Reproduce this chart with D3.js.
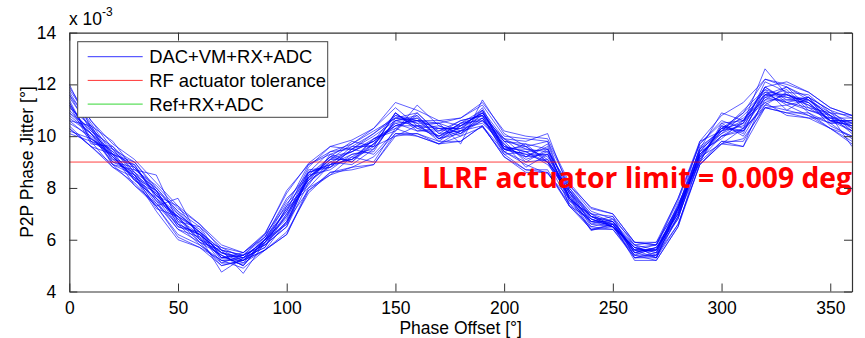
<!DOCTYPE html>
<html>
<head>
<meta charset="utf-8">
<script src="https://cdn.jsdelivr.net/npm/d3@7"></script>
<style>
  html, body { margin: 0; padding: 0; background: #fff; }
  svg { display: block; }
  text { font-family: "Liberation Sans", Arial, sans-serif; fill: #000; }
</style>
</head>
<body>
<div id="chart"></div>
<script>
// Phase offset samples (degrees), one value every 10°
const phaseOffsets = d3.range(0, 361, 10);

// P2P phase jitter for each measurement run, in units of 1e-3 degrees
const run01 = [12.0,10.3,9.1,8.9,7.6,6.9,6.0,5.5,5.1,6.0,6.8,8.6,8.9,9.6,9.6,10.9,10.3,10.4,10.1,11.0,9.4,9.7,9.0,7.9,6.6,6.8,5.5,5.7,7.0,9.5,10.1,10.8,11.6,11.9,11.1,10.9,10.2];
const run02 = [10.2,9.9,9.4,8.3,7.8,6.5,6.3,5.2,5.3,5.7,7.3,8.1,9.3,9.0,9.9,10.3,10.8,9.9,10.5,10.6,9.8,9.0,9.5,7.5,7.0,6.5,5.7,5.4,7.3,9.1,10.4,10.1,11.9,11.3,11.5,10.5,10.6];
const run03 = [11.4,9.8,9.5,8.5,7.9,6.6,6.2,5.1,5.4,5.8,6.5,8.5,8.7,9.3,9.4,10.7,10.5,9.8,10.4,10.7,9.5,9.5,9.2,7.8,6.5,6.7,5.4,5.7,6.8,9.4,9.9,10.6,11.3,11.6,11.2,10.8,10.1];
const run04 = [10.8,10.1,8.9,8.7,8.5,6.7,5.9,5.6,5.2,6.1,7.1,8.3,9.1,9.1,9.7,10.4,10.6,10.3,10.0,10.9,9.6,9.2,9.7,7.6,6.9,6.5,5.8,5.3,7.2,9.2,10.3,10.2,11.7,11.2,11.4,10.6,10.4];
const run05 = [11.1,10.4,9.2,8.4,7.3,7.6,6.0,5.4,5.0,5.9,6.9,8.7,8.8,9.5,9.8,10.5,10.2,10.2,10.6,10.8,9.3,9.4,8.9,7.9,6.8,6.6,5.6,5.8,7.0,9.3,10.0,10.5,11.5,11.8,11.0,10.7,10.7];
const run06 = [10.5,10.0,9.0,8.6,7.5,6.4,6.1,4.75,5.3,5.7,7.0,8.2,9.0,8.9,9.5,10.6,10.4,10.0,10.3,10.5,9.7,8.8,9.3,7.5,6.7,6.9,5.3,5.5,7.4,9.0,10.5,10.0,11.4,11.4,11.3,10.4,10.0];
const run07 = [11.2,9.7,9.6,8.8,7.7,7.0,6.3,5.6,4.7,5.9,6.6,8.4,9.2,9.4,9.9,10.2,10.9,10.1,10.2,11.1,9.5,9.6,9.1,7.7,6.4,6.6,5.6,5.6,6.9,9.6,10.2,11.0,11.8,11.0,11.5,11.0,10.3];
const run08 = [11.6,10.5,9.3,9.0,8.0,7.1,6.5,5.3,5.5,6.2,7.9,8.9,9.4,9.7,10.3,11.1,10.4,10.5,10.7,11.2,10.0,9.9,9.8,8.1,7.1,6.8,5.9,5.8,7.5,9.7,10.6,10.3,12.1,11.7,11.6,10.9,10.8];
const run09 = [10.3,9.6,8.8,8.2,7.3,6.2,5.8,5.1,5.1,5.6,6.2,7.9,8.6,8.7,8.9,10.1,10.0,9.7,9.8,10.4,9.2,8.7,8.6,7.4,6.4,6.4,5.3,5.3,6.6,8.9,9.7,9.6,11.1,10.9,10.7,10.3,9.8];
const run10 = [11.0,10.2,9.3,8.3,7.6,6.8,6.2,5.5,5.3,6.0,7.4,8.3,8.8,9.2,9.7,10.8,10.6,10.0,10.5,10.8,9.7,9.1,9.4,7.6,6.9,6.5,5.7,5.5,7.1,9.3,10.1,10.5,12.6,11.6,11.3,10.6,10.6];
const run11 = [11.3,9.8,9.3,8.9,7.7,6.9,6.4,5.3,5.4,5.8,6.7,8.5,9.2,9.8,9.6,10.9,10.2,10.3,10.3,11.0,9.9,9.8,10.1,7.9,7.0,6.7,5.5,5.6,7.3,9.4,10.3,10.7,11.4,11.9,11.4,10.9,10.5];
const run12 = [10.7,10.1,9.1,8.5,7.4,6.6,5.8,5.2,5.2,5.9,7.2,8.0,8.9,9.1,9.9,10.4,10.7,9.9,10.2,10.6,9.5,9.3,9.0,7.4,6.7,6.5,5.4,5.4,6.9,9.0,9.8,9.6,11.6,11.3,11.1,10.6,10.2];
const run13 = [11.5,10.3,9.5,8.6,8.0,7.0,6.3,5.6,5.4,6.1,7.5,8.6,9.4,9.5,10.0,10.6,10.7,10.2,10.4,10.9,9.6,9.4,9.5,8.0,6.9,6.7,5.7,5.8,7.3,9.5,10.9,10.6,11.8,11.5,11.4,10.8,9.6];
const run14 = [10.9,10.3,8.9,8.5,7.2,6.9,5.9,5.4,5.0,6.0,6.6,8.6,8.8,9.5,9.3,10.2,11.2,10.4,10.1,10.6,9.9,9.2,9.6,7.3,6.8,6.5,5.6,5.3,7.2,9.0,10.4,10.2,11.2,11.7,10.9,10.5,10.5];
const run15 = [11.7,10.4,9.8,8.7,8.1,7.2,6.6,5.6,5.4,6.2,7.3,8.9,9.3,9.6,10.1,10.8,10.5,10.5,9.7,11.4,10.1,9.6,9.0,8.0,7.0,6.9,5.8,5.9,7.2,9.8,10.2,10.9,12.2,11.9,11.5,11.0,10.7];
const run16 = [10.4,9.6,9.3,8.1,7.4,6.4,5.9,5.0,5.2,5.6,6.7,7.9,8.5,9.2,9.0,10.3,10.0,9.7,10.2,10.4,9.4,8.9,8.55,7.6,6.35,6.6,5.2,5.2,6.5,9.2,9.7,10.3,11.1,11.2,10.8,10.5,9.9];
const run17 = [11.2,10.1,9.4,8.8,7.9,6.7,6.5,5.7,5.5,6.1,7.6,8.4,9.1,9.7,10.2,10.7,10.9,10.1,10.6,10.8,9.9,9.5,9.4,8.1,7.25,7.0,5.9,5.8,7.6,9.7,10.5,10.6,11.9,12.1,11.7,11.1,10.8];
const run18 = [10.6,9.9,9.2,8.3,7.6,6.5,6.2,5.3,5.2,5.8,6.5,8.2,8.9,9.1,9.6,10.0,10.4,9.9,10.1,10.7,9.4,9.0,9.1,7.6,6.6,6.5,5.5,5.3,6.9,9.1,10.0,10.2,11.3,10.8,10.7,10.7,10.2];
const run19 = [11.9,10.6,9.5,9.0,7.9,7.1,6.2,5.5,5.3,6.0,7.1,8.8,9.6,9.5,10.1,10.7,10.6,10.6,10.4,10.9,9.8,9.7,9.5,7.9,6.9,6.7,5.8,5.6,7.2,9.5,10.3,10.9,11.7,11.6,11.4,10.8,10.4];
const run20 = [10.3,9.6,8.9,8.1,7.3,6.1,5.7,5.2,4.9,5.6,6.3,7.8,8.6,8.8,9.2,10.1,10.1,9.8,9.8,10.4,9.2,8.6,8.6,7.3,6.5,6.4,5.4,5.2,6.5,8.9,9.8,9.8,11.2,11.0,10.8,10.3,9.7];
const run21 = [11.8,10.6,9.7,9.1,8.2,7.3,6.6,5.8,5.5,6.25,7.8,8.95,9.6,9.85,10.3,11.3,11.0,10.6,10.7,11.3,10.2,10.0,9.9,8.2,7.2,7.0,5.9,5.9,7.6,9.8,10.8,11.3,12.2,12.0,11.7,11.1,10.8];
const run22 = [10.1,9.8,8.8,8.4,7.1,6.0,5.7,5.0,5.2,5.6,6.2,8.0,8.5,8.8,8.9,10.0,10.1,9.7,10.0,10.35,9.3,8.7,8.7,7.3,6.4,6.5,5.3,5.4,6.6,8.9,9.7,9.9,11.1,10.9,10.9,10.3,10.0];
const run23 = [11.6,10.2,9.6,8.6,7.7,7.3,6.1,5.3,5.4,5.9,7.0,8.4,9.0,9.4,9.8,10.9,10.3,10.0,10.5,11.0,9.5,9.3,9.3,7.8,6.9,6.6,5.6,5.6,7.0,9.3,10.2,10.4,11.6,11.6,11.3,10.6,10.6];
const run24 = [10.6,10.4,9.0,8.8,7.8,6.8,6.0,5.7,5.3,6.0,6.9,8.3,9.2,9.0,9.7,10.5,10.6,10.5,10.2,10.7,9.6,9.4,9.0,7.7,6.7,6.7,5.6,5.6,7.2,9.3,10.0,10.3,11.5,11.3,11.0,10.8,10.3];
const run25 = [11.3,9.9,9.3,8.5,7.5,6.9,6.3,5.4,5.0,6.0,7.2,8.6,8.9,9.3,9.5,10.6,10.8,9.9,10.4,10.9,9.8,9.6,9.8,7.6,6.8,6.5,5.7,5.5,6.8,9.4,10.3,10.5,11.9,11.4,11.5,10.7,10.5];
const run26 = [10.9,10.1,9.2,8.4,7.9,6.6,6.2,5.5,5.2,5.9,6.7,8.4,9.1,9.4,9.8,10.4,10.4,10.3,10.3,10.8,9.5,9.2,9.3,7.8,6.7,6.6,5.5,5.7,7.1,9.2,10.2,10.6,11.6,11.5,11.2,10.6,10.4];

const runs = [run01, run02, run03, run04, run05, run06, run07, run08, run09, run10,
              run11, run12, run13, run14, run15, run16, run17, run18, run19, run20,
              run21, run22, run23, run24, run25, run26];

// RF actuator tolerance (degrees)
const tolerance = 0.009;
const exponent = -3;

const xTicks = [0, 50, 100, 150, 200, 250, 300, 350];
const yTicks = [4, 6, 8, 10, 12, 14];

const legendItems = [
  { label: "DAC+VM+RX+ADC", color: "#0000ff" },
  { label: "RF actuator tolerance", color: "#ff0000" },
  { label: "Ref+RX+ADC", color: "#00cc00" }
];

const W = 865, H = 338;
const margin = { left: 69.3, right: 13, top: 32.6, bottom: 46.5 };
const iw = W - margin.left - margin.right;
const ih = H - margin.top - margin.bottom;

const svg = d3.select("#chart").append("svg").attr("width", W).attr("height", H);
const g = svg.append("g").attr("transform", `translate(${margin.left},${margin.top})`);

const x = d3.scaleLinear().domain([0, 360]).range([0, iw]);
const y = d3.scaleLinear().domain([4, 14]).range([ih, 0]);

// clip region for plotted data and annotation
svg.append("defs").append("clipPath").attr("id", "plotClip")
  .append("rect").attr("x", 0).attr("y", 0).attr("width", iw).attr("height", ih);

const plot = g.append("g").attr("clip-path", "url(#plotClip)");

const line = d3.line().x((d, i) => x(phaseOffsets[i])).y(d => y(d));

plot.selectAll("path.run").data(runs).join("path")
  .attr("class", "run")
  .attr("d", line)
  .attr("fill", "none")
  .attr("stroke", "#0000ff")
  .attr("stroke-width", 0.9)
  .attr("stroke-opacity", 0.7);

const tolScaled = tolerance / Math.pow(10, exponent);
plot.append("line")
  .attr("x1", 0).attr("x2", iw)
  .attr("y1", y(tolScaled)).attr("y2", y(tolScaled))
  .attr("stroke", "#ff0000").attr("stroke-width", 1).attr("stroke-opacity", 0.75);

// annotation of the limit
plot.append("text")
  .attr("x", 422 - margin.left)
  .attr("y", 188.5 - margin.top)
  .attr("textLength", 430)
  .attr("lengthAdjust", "spacingAndGlyphs")
  .style("font-family", "'Open Sans', 'Liberation Sans', sans-serif")
  .style("font-weight", "bold")
  .style("font-size", "29px")
  .style("fill", "#ff0000")
  .text(`LLRF actuator limit = ${tolerance} deg`);

// axes: box with inward ticks on all four sides
const axisColor = "#333";
const tickLen = 8;
const axB = d3.axisBottom(x).tickValues(xTicks).tickSizeInner(-tickLen).tickSizeOuter(0).tickPadding(10);
const axT = d3.axisTop(x).tickValues(xTicks).tickSizeInner(-tickLen).tickSizeOuter(0).tickFormat("");
const axL = d3.axisLeft(y).tickValues(yTicks).tickSizeInner(-tickLen).tickSizeOuter(0).tickPadding(13);
const axR = d3.axisRight(y).tickValues(yTicks).tickSizeInner(-tickLen).tickSizeOuter(0).tickFormat("");

function styleAxis(sel) {
  sel.select(".domain").attr("stroke", axisColor).attr("stroke-width", 1.2);
  sel.selectAll(".tick line").attr("stroke", axisColor).attr("stroke-width", 1);
  sel.selectAll(".tick text")
    .style("font-family", "'Liberation Sans', Arial, sans-serif")
    .style("font-size", "17.5px").attr("fill", "#000");
}

g.append("g").attr("transform", `translate(0,${ih})`).call(axB).call(styleAxis);
g.append("g").call(axT).call(styleAxis);
g.append("g").call(axL).call(styleAxis);
g.append("g").attr("transform", `translate(${iw},0)`).call(axR).call(styleAxis);

// exponent label above the y axis
const expText = svg.append("text")
  .attr("x", 69).attr("y", 25)
  .style("font-size", "17.5px");
expText.append("tspan").text("x 10");
expText.append("tspan").attr("dy", -9).style("font-size", "12px").text(String(exponent));

// axis titles
svg.append("text")
  .attr("x", margin.left + iw / 2).attr("y", 334)
  .attr("text-anchor", "middle")
  .style("font-size", "17.5px")
  .text("Phase Offset [°]");

svg.append("text")
  .attr("transform", `translate(33,${margin.top + ih / 2}) rotate(-90)`)
  .attr("text-anchor", "middle")
  .style("font-size", "17.5px")
  .text("P2P Phase Jitter [°]");

// legend
const lg = svg.append("g").attr("transform", "translate(77.7,41.7)");
lg.append("rect")
  .attr("width", 250).attr("height", 75.6)
  .attr("fill", "#fff").attr("stroke", "#444").attr("stroke-width", 1);
legendItems.forEach((d, i) => {
  const yy = 15 + i * 23.7;
  lg.append("line")
    .attr("x1", 10).attr("x2", 65).attr("y1", yy).attr("y2", yy)
    .attr("stroke", d.color).attr("stroke-width", 1).attr("stroke-opacity", 0.8);
  lg.append("text")
    .attr("x", 71.5).attr("y", yy + 6.5)
    .style("font-size", "18.4px")
    .text(d.label);
});
</script>
</body>
</html>
